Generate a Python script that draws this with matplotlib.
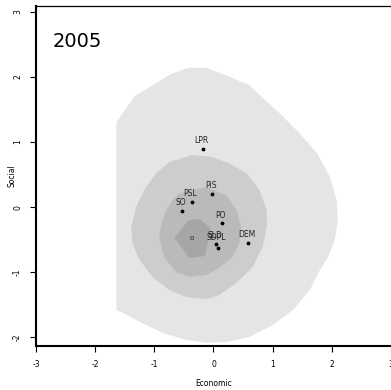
import matplotlib
matplotlib.use('Agg')
import matplotlib.pyplot as plt
import numpy as np
from matplotlib.patches import Polygon

year = "2005"

# density contour outlines (Economic, Social)
outer_x = [-1.64, -1.34, -1.03, -0.71, -0.41, -0.12, 0.22, 0.61, 0.83, 1.12, 1.46, 1.75, 1.97, 2.08,
           2.10, 2.05, 1.93, 1.80, 1.63, 1.34, 1.00, 0.61, 0.22, -0.12, -0.46, -0.86, -1.20, -1.54, -1.64]
outer_y = [1.30, 1.70, 1.87, 2.05, 2.14, 2.14, 2.02, 1.87, 1.68, 1.44, 1.13, 0.83, 0.46, 0.11,
           -0.20, -0.51, -0.78, -0.96, -1.27, -1.58, -1.81, -1.99, -2.07, -2.08, -2.04, -1.93, -1.78, -1.62, -1.58]

mid_x = [-0.36, -0.02, 0.27, 0.56, 0.78, 0.90, 0.90, 0.83, 0.66, 0.39, 0.10, -0.12, -0.46, -0.75,
         -1.03, -1.25, -1.37, -1.39, -1.31, -1.14, -0.97, -0.75]
mid_y = [0.80, 0.77, 0.67, 0.52, 0.26, -0.05, -0.31, -0.61, -0.92, -1.16, -1.35, -1.41, -1.38, -1.27,
         -1.07, -0.81, -0.55, -0.31, 0.0, 0.31, 0.52, 0.69]

inner_x = [-0.58, -0.12, 0.22, 0.39, 0.47, 0.44, 0.32, 0.10, -0.12, -0.41, -0.63, -0.83, -0.92, -0.88, -0.80, -0.69]
inner_y = [0.21, 0.31, 0.18, -0.05, -0.31, -0.55, -0.77, -0.93, -1.04, -1.07, -1.00, -0.77, -0.47, -0.25, -0.05, 0.11]

core_x = [-0.66, -0.42, -0.24, -0.05, -0.14, -0.41]
core_y = [-0.47, -0.20, -0.18, -0.32, -0.75, -0.78]

# parties
parties = ["LPR", "PiS", "PSL", "SO", "PO", "DEM", "SLD", "SDPL"]
econ = [-0.17, -0.02, -0.36, -0.53, 0.15, 0.59, 0.05, 0.08]
social = [0.89, 0.20, 0.08, -0.06, -0.25, -0.55, -0.57, -0.63]

# voter centre marker
centre_x, centre_y = -0.36, -0.47

narrow = ['Liberation Sans Narrow', 'DejaVu Sans']

fig = plt.figure(figsize=(3.91, 3.90), dpi=100)
ax = fig.add_axes([0.092, 0.113, 0.908, 0.872])

for xs, ys, col in [(outer_x, outer_y, '#e5e5e5'), (mid_x, mid_y, '#cdcdcd'),
                    (inner_x, inner_y, '#bababa'), (core_x, core_y, '#a6a6a6')]:
    ax.add_patch(Polygon(np.column_stack([xs, ys]), closed=True, facecolor=col, edgecolor='none'))

ax.scatter(econ, social, s=3, color='black', zorder=3)
for name, x, y in zip(parties, econ, social):
    dy = 0.06 if name != "SDPL" else 0.1
    ax.text(x - 0.03, y + dy, name, fontsize=5.5, family=narrow, ha='center', va='bottom', color='#222222')
ax.text(centre_x, centre_y, "o", fontsize=5, family=narrow, ha='center', va='center', color='#222222')

ax.text(-2.72, 2.55, year, fontsize=14, ha='left', va='center')

ax.set_xlim(-3, 3)
ax.set_ylim(-2.13, 3.09)
ax.set_xticks([-3, -2, -1, 0, 1, 2, 3])
ax.set_yticks([-2, -1, 0, 1, 2, 3])
ax.set_xticklabels(["-3", "-2", "-1", "0", "1", "2", "3"], family=narrow, fontsize=5.5)
ax.set_yticklabels(["-2", "-1", "0", "1", "2", "3"], family=narrow, fontsize=5.5, rotation=90, va='center')
ax.tick_params(axis='both', direction='out', length=4, width=0.8, pad=6)

for side in ['left', 'bottom']:
    ax.spines[side].set_linewidth(1.5)
ax.spines['top'].set_linewidth(0.9)
ax.spines['right'].set_visible(False)

ax.set_xlabel("Economic", family=narrow, fontsize=5.5, va='center')
ax.set_ylabel("Social", fontsize=5.5, va='center')
ax.xaxis.set_label_coords((214 - 36) / 355, -(384 - 346) / 340, transform=ax.transAxes)
ax.yaxis.set_label_coords(-(36 - 12) / 355, 0.5, transform=ax.transAxes)

plt.savefig("out.png", dpi=100)
plt.close()
